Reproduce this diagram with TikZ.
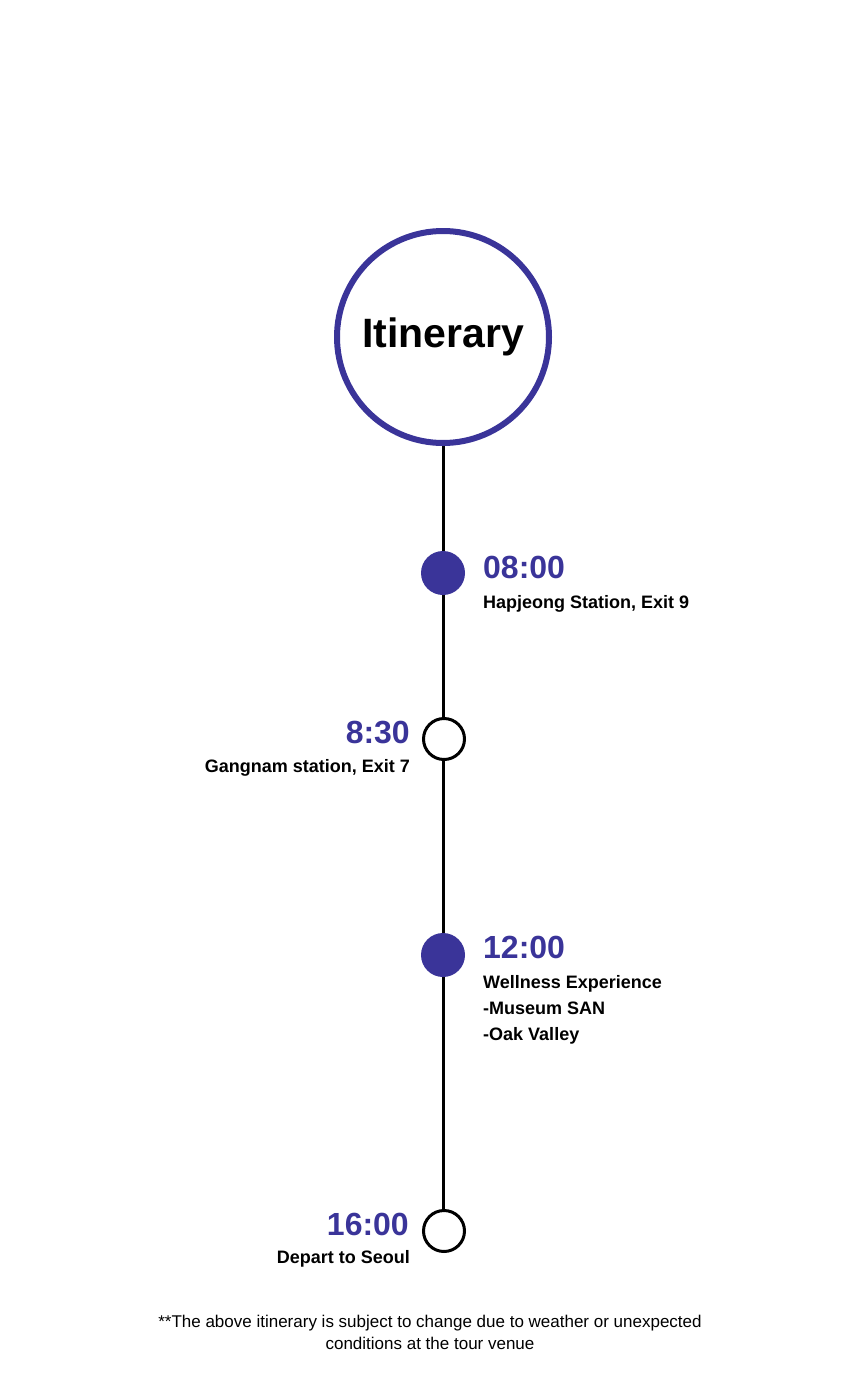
\documentclass[tikz,border=0pt]{standalone}
\usepackage{fontspec}
\setmainfont{Liberation Sans}
\usepackage{xcolor}
\usetikzlibrary{positioning, backgrounds}
\definecolor{itinblue}{RGB}{58,52,153}
\tikzset{
  titlering/.style={circle, draw=itinblue, line width=6pt, fill=white,
                    minimum size=212pt, inner sep=0pt,
                    font=\fontsize{41}{48}\selectfont\bfseries},
  stopfull/.style={circle, fill=itinblue, minimum size=44pt, inner sep=0pt},
  stopopen/.style={circle, draw=black, line width=3pt, fill=white,
                   minimum size=41pt, inner sep=0pt},
  timelbl/.style={text=itinblue, inner sep=0pt,
                  font=\fontsize{32}{36}\selectfont\bfseries},
  placelbl/.style={inner sep=0pt, align=left,
                   font=\fontsize{18}{26}\selectfont\bfseries},
  noteline/.style={inner sep=0pt, align=center,
                   font=\fontsize{17}{22}\selectfont},
  spine/.style={line width=3pt, black},
}
\begin{document}
\begin{tikzpicture}[x=1pt, y=-1pt]
  \useasboundingbox (0,0) rectangle (860,1400);
  %% Title
  \node[titlering] (title) at (443,337) {Itinerary};
  %% Stops
  \node[stopfull] (s1) at (443,573)  {};
  \node[stopopen] (s2) at (444,739)  {};
  \node[stopfull] (s3) at (443,955)  {};
  \node[stopopen] (s4) at (444,1231) {};
  \begin{scope}[on background layer]
    \draw[spine] (title.south) -- (title.south |- s4.north);
  \end{scope}
  %% Right side labels
  \node[timelbl, anchor=base west] (t1) at (483,578) {08:00};
  \node[placelbl, anchor=base west] (p1) at (483,608) {Hapjeong Station, Exit 9};
  \node[timelbl, anchor=base west] (t3) at (483,958) {12:00};
  \node[placelbl, anchor=north west] (p3) at (483,975)
    {Wellness Experience\\-Museum SAN\\-Oak Valley};
  %% Left side labels
  \node[timelbl, anchor=base east] (t2) at (410,743) {8:30};
  \node[placelbl, anchor=base east] (p2) at (410,772) {Gangnam station, Exit 7};
  \node[timelbl, anchor=base east] (t4) at (409,1235) {16:00};
  \node[placelbl, anchor=base east] (p4) at (410,1263) {Depart to Seoul};
  %% Footnote
  \node[noteline, anchor=base] (note) at (430,1349)
    {**The above itinerary is subject to change due to weather or unexpected\\conditions at the tour venue};
\end{tikzpicture}
\end{document}
